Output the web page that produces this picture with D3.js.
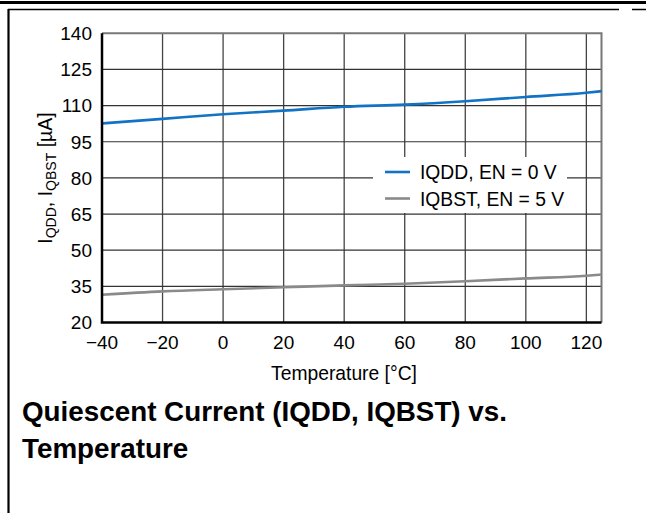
<!DOCTYPE html>
<html>
<head>
<meta charset="utf-8">
<title>Quiescent Current vs. Temperature</title>
<script src="https://d3js.org/d3.v7.min.js"></script>
<style>
  body { margin: 0; background: #fff; }
  svg { display: block; font-family: "Liberation Sans", Arial, sans-serif; }
</style>
</head>
<body>
<div id="chart"></div>
<script>
// ---- data ----
var temps = [-40, -20, 0, 20, 40, 60, 80, 100, 120, 125];
var iqdd  = [102.6, 104.5, 106.4, 107.9, 109.5, 110.4, 111.8, 113.6, 115.3, 116.0];
var iqbst = [31.5, 32.9, 33.8, 34.6, 35.4, 36.1, 37.1, 38.3, 39.4, 39.9];
var xTicks = [-40, -20, 0, 20, 40, 60, 80, 100, 120];
var yTicks = [20, 35, 50, 65, 80, 95, 110, 125, 140];
var seriesNames = ["IQDD, EN = 0 V", "IQBST, EN = 5 V"];
var seriesColors = ["#1273c4", "#8a8a8a"];

var W = 646, H = 513;
var x = d3.scaleLinear().domain([-40, 125]).range([102, 601.5]);
var y = d3.scaleLinear().domain([20, 140]).range([322.5, 33.3]);

var svg = d3.select("#chart").append("svg")
  .attr("width", W).attr("height", H);

// page frame
svg.append("line").attr("x1", 0).attr("x2", W).attr("y1", 2.5).attr("y2", 2.5)
  .attr("stroke", "#000").attr("stroke-width", 3);
svg.append("line").attr("x1", 8).attr("x2", 619).attr("y1", 9.5).attr("y2", 9.5)
  .attr("stroke", "#000").attr("stroke-width", 1.5);
svg.append("line").attr("x1", 632).attr("x2", W).attr("y1", 9.5).attr("y2", 9.5)
  .attr("stroke", "#000").attr("stroke-width", 1.5);
svg.append("line").attr("x1", 8.5).attr("x2", 8.5).attr("y1", 9).attr("y2", H)
  .attr("stroke", "#000").attr("stroke-width", 2.2);

// grid
var grid = svg.append("g");
grid.selectAll(".vg").data(xTicks.slice(1)).enter().append("line")
  .attr("x1", function(d) { return x(d); }).attr("x2", function(d) { return x(d); })
  .attr("y1", y(140)).attr("y2", y(20))
  .attr("stroke", "#444").attr("stroke-width", 1.3);
grid.selectAll(".hg").data(yTicks.slice(1, -1)).enter().append("line")
  .attr("x1", x(-40)).attr("x2", x(125))
  .attr("y1", function(d) { return y(d); }).attr("y2", function(d) { return y(d); })
  .attr("stroke", "#333").attr("stroke-width", 1.2);

// top / right border (gray)
svg.append("path")
  .attr("d", "M" + x(-40) + "," + y(140) + "H" + x(125) + "V" + y(20))
  .attr("fill", "none").attr("stroke", "#777").attr("stroke-width", 2);

// legend background
var lg = svg.append("g");
lg.append("rect").attr("x", 373).attr("y", 157).attr("width", 194).attr("height", 56)
  .attr("fill", "#fff");

// series
var line = d3.line()
  .x(function(d) { return x(d[0]); })
  .y(function(d) { return y(d[1]); })
  .curve(d3.curveMonotoneX);
[iqdd, iqbst].forEach(function(vals, i) {
  svg.append("path")
    .datum(temps.map(function(t, j) { return [t, vals[j]]; }))
    .attr("d", line)
    .attr("fill", "none")
    .attr("stroke", seriesColors[i])
    .attr("stroke-width", 2.6);
});

// legend entries
seriesNames.forEach(function(name, i) {
  var ly = 172 + i * 26.5;
  lg.append("line").attr("x1", 385).attr("x2", 410).attr("y1", ly).attr("y2", ly)
    .attr("stroke", seriesColors[i]).attr("stroke-width", 2.6);
  lg.append("text").attr("x", 420).attr("y", ly + 7)
    .attr("font-size", 19.3).attr("fill", "#000").text(name);
});

// axes (black, left and bottom)
svg.append("path")
  .attr("d", "M" + x(-40) + "," + y(140) + "V" + y(20) + "H" + x(125))
  .attr("fill", "none").attr("stroke", "#000").attr("stroke-width", 2.5);

// tick labels
svg.append("g").selectAll("text").data(yTicks).enter().append("text")
  .attr("x", 92).attr("y", function(d) { return y(d) + 6.8; })
  .attr("text-anchor", "end").attr("font-size", 19).attr("fill", "#000")
  .text(function(d) { return d; });
svg.append("g").selectAll("text").data(xTicks).enter().append("text")
  .attr("x", function(d) { return x(d); }).attr("y", 348.5)
  .attr("text-anchor", "middle").attr("font-size", 19).attr("fill", "#000")
  .text(function(d) { return d < 0 ? "\u2212" + Math.abs(d) : d; });

// axis titles
svg.append("text").attr("x", 344).attr("y", 379.5)
  .attr("text-anchor", "middle").attr("font-size", 19.3).attr("fill", "#000")
  .text("Temperature [\u00B0C]");

var yl = svg.append("text")
  .attr("transform", "translate(52,178) rotate(-90)")
  .attr("text-anchor", "middle").attr("font-size", 19.5).attr("fill", "#000");
yl.append("tspan").text("I");
yl.append("tspan").attr("font-size", 14).attr("dy", 4).text("QDD");
yl.append("tspan").attr("dy", -4).text(", I");
yl.append("tspan").attr("font-size", 14).attr("dy", 4).text("QBST");
yl.append("tspan").attr("dy", -4).text(" [\u00B5A]");

// caption
var cap = svg.append("text").attr("x", 22).attr("y", 421)
  .attr("font-size", 27.8).attr("font-weight", "bold").attr("fill", "#000");
cap.append("tspan").attr("x", 22).text("Quiescent Current (IQDD, IQBST) vs.");
cap.append("tspan").attr("x", 22).attr("dy", 37).text("Temperature");
</script>
</body>
</html>
